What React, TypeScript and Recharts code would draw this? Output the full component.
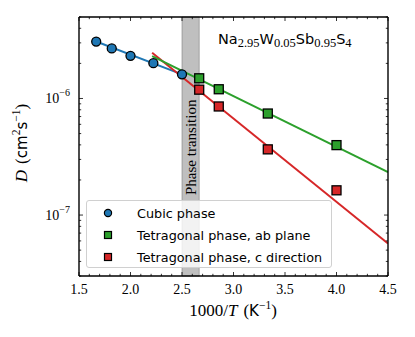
import React from 'react';
import { ComposedChart, XAxis, YAxis, Scatter, Line, ReferenceArea } from 'recharts';

// 1000/T values (K^-1)
const cubicX = [1.667, 1.818, 2.0, 2.222, 2.5];
const tetX = [2.667, 2.857, 3.333, 4.0];

// diffusion coefficient D (cm^2 s^-1)
const cubicD = [3.08e-6, 2.69e-6, 2.32e-6, 2.01e-6, 1.61e-6];
const abD = [1.49e-6, 1.2e-6, 7.43e-7, 3.98e-7];
const cD = [1.19e-6, 8.54e-7, 3.66e-7, 1.63e-7];

// Arrhenius fits, end points
const cubicFitX = [1.667, 2.5];
const cubicFitD = [3.08e-6, 1.61e-6];
const abFitX = [2.21, 4.5];
const abFitD = [2.31e-6, 2.33e-7];
const cFitX = [2.21, 4.5];
const cFitD = [2.47e-6, 5.7e-8];

const transition = [2.5, 2.667];

const xMajor = [1.5, 2.0, 2.5, 3.0, 3.5, 4.0, 4.5];
const xMinor = [
  1.6, 1.7, 1.8, 1.9, 2.1, 2.2, 2.3, 2.4, 2.6, 2.7, 2.8, 2.9,
  3.1, 3.2, 3.3, 3.4, 3.6, 3.7, 3.8, 3.9, 4.1, 4.2, 4.3, 4.4,
];
const yMajor = [1e-7, 1e-6];
const yMajorExp = ['−7', '−6'];
const yMinor = [
  3e-8, 4e-8, 5e-8, 6e-8, 7e-8, 8e-8, 9e-8,
  2e-7, 3e-7, 4e-7, 5e-7, 6e-7, 7e-7, 8e-7, 9e-7,
  2e-6, 3e-6, 4e-6, 5e-6,
];

const legendItems = [
  { label: 'Cubic phase', color: '#1f77b4', marker: 'circle' },
  { label: 'Tetragonal phase, ab plane', color: '#2ca02c', marker: 'square' },
  { label: 'Tetragonal phase, c direction', color: '#d62728', marker: 'square' },
];

const toPoints = (xs: number[], ys: number[]) => xs.map((x, i) => ({ x, y: ys[i] }));

const serif = '"Liberation Serif", "DejaVu Serif", serif';
const sans = '"DejaVu Sans", sans-serif';

const W = 415;
const H = 337;

const xTicks = [...xMajor, ...xMinor].sort((a, b) => a - b);
const yTicks = [...yMajor, ...yMinor].sort((a, b) => a - b);

const BottomTick = ({ x, y, payload }: any) => {
  const major = xMajor.includes(payload.value);
  return (
    <g>
      <line x1={x} x2={x} y1={y} y2={y - (major ? 4 : 2.2)} stroke="#000" strokeWidth={0.8} />
      {major && (
        <text x={x} y={y + 17.5} textAnchor="middle" fontFamily={serif} fontSize={14} fill="#000">
          {payload.value.toFixed(1)}
        </text>
      )}
    </g>
  );
};

const TopTick = ({ x, y, payload }: any) => {
  const major = xMajor.includes(payload.value);
  return <line x1={x} x2={x} y1={y} y2={y + (major ? 4 : 2.2)} stroke="#000" strokeWidth={0.8} />;
};

const LeftTick = ({ x, y, payload }: any) => {
  const idx = yMajor.indexOf(payload.value);
  const major = idx >= 0;
  return (
    <g>
      <line x1={x} x2={x + (major ? 4 : 2.2)} y1={y} y2={y} stroke="#000" strokeWidth={0.8} />
      {major && (
        <text x={x - 9} y={y + 4.5} textAnchor="end" fontFamily={serif} fontSize={14} fill="#000">
          10
          <tspan dy={-6.5} fontSize={10}>{yMajorExp[idx]}</tspan>
        </text>
      )}
    </g>
  );
};

const RightTick = ({ x, y, payload }: any) => {
  const major = yMajor.includes(payload.value);
  return <line x1={x} x2={x - (major ? 4 : 2.2)} y1={y} y2={y} stroke="#000" strokeWidth={0.8} />;
};

const Circle = (p: any) => (
  <circle cx={p.cx} cy={p.cy} r={4.5} fill="#1f77b4" stroke="#000" strokeWidth={1.3} />
);
const square = (color: string) => (p: any) =>
  <rect x={p.cx - 4.5} y={p.cy - 4.5} width={9} height={9} fill={color} stroke="#000" strokeWidth={1.3} />;

const BandLabel = (p: any) => {
  const vb = p.viewBox || {};
  const cx = vb.x + vb.width / 2;
  return (
    <text
      transform={`translate(${cx + 0.5},195) rotate(-90)`}
      fontFamily={serif}
      fontSize={15}
      fill="#000"
      dominantBaseline="central"
    >
      Phase transition
    </text>
  );
};

const LegendBox = () => (
  <div
    style={{
      position: 'absolute',
      left: 86,
      top: 200,
      width: 246,
      height: 68,
      boxSizing: 'border-box',
      background: 'rgba(255,255,255,0.8)',
      border: '1px solid #d0d0d0',
      borderRadius: 3,
      padding: '1px 0 0 0',
      fontFamily: sans,
      fontSize: 12.8,
      color: '#000',
    }}
  >
    {legendItems.map((it) => (
      <div key={it.label} style={{ display: 'flex', alignItems: 'center', height: 22 }}>
        <svg width={50} height={12}>
          {it.marker === 'circle' ? (
            <circle cx={21} cy={6} r={3.6} fill={it.color} stroke="#000" strokeWidth={1.2} />
          ) : (
            <rect x={17.5} y={2.5} width={7} height={7} fill={it.color} stroke="#000" strokeWidth={1.2} />
          )}
        </svg>
        <span>{it.label}</span>
      </div>
    ))}
  </div>
);

const frame = { stroke: '#000', strokeWidth: 1.4 };

export default function App() {
  return (
    <div style={{ position: 'absolute', left: 0, top: 0, width: W, height: H, background: '#fff' }}>
      <ComposedChart width={W} height={H} margin={{ top: 7, right: 17, bottom: 41, left: 59 }}>
        <XAxis
          xAxisId={0}
          dataKey="x"
          type="number"
          domain={[1.5, 4.5]}
          allowDataOverflow
          ticks={xTicks}
          interval={0}
          height={20}
          tickSize={0}
          tickMargin={0}
          tickLine={false}
          tick={<BottomTick />}
          axisLine={frame}
        />
        <XAxis
          xAxisId="top"
          orientation="top"
          dataKey="x"
          type="number"
          domain={[1.5, 4.5]}
          allowDataOverflow
          ticks={xTicks}
          interval={0}
          height={10}
          tickSize={0}
          tickMargin={0}
          tickLine={false}
          tick={<TopTick />}
          axisLine={frame}
        />
        <YAxis
          yAxisId={0}
          dataKey="y"
          type="number"
          scale="log"
          domain={[3e-8, 5e-6]}
          allowDataOverflow
          ticks={yTicks}
          interval={0}
          width={20}
          tickSize={0}
          tickMargin={0}
          tickLine={false}
          tick={<LeftTick />}
          axisLine={frame}
        />
        <YAxis
          yAxisId="right"
          orientation="right"
          dataKey="y"
          type="number"
          scale="log"
          domain={[3e-8, 5e-6]}
          allowDataOverflow
          ticks={yTicks}
          interval={0}
          width={10}
          tickSize={0}
          tickMargin={0}
          tickLine={false}
          tick={<RightTick />}
          axisLine={frame}
        />
        <ReferenceArea
          x1={transition[0]}
          x2={transition[1]}
          y1={3e-8}
          y2={5e-6}
          fill="#808080"
          fillOpacity={0.5}
          stroke="#808080"
          strokeOpacity={0.6}
          strokeWidth={1}
          label={<BandLabel />}
        />
        <Line data={toPoints(cubicFitX, cubicFitD)} dataKey="y" stroke="#1f77b4" strokeWidth={2} dot={false} isAnimationActive={false} />
        <Line data={toPoints(cFitX, cFitD)} dataKey="y" stroke="#d62728" strokeWidth={2} dot={false} isAnimationActive={false} />
        <Line data={toPoints(abFitX, abFitD)} dataKey="y" stroke="#2ca02c" strokeWidth={2} dot={false} isAnimationActive={false} />
        <Scatter data={toPoints(cubicX, cubicD)} shape={<Circle />} isAnimationActive={false} />
        <Scatter data={toPoints(tetX, abD)} shape={square('#2ca02c')} isAnimationActive={false} />
        <Scatter data={toPoints(tetX, cD)} shape={square('#d62728')} isAnimationActive={false} />
      </ComposedChart>
      <LegendBox />
      <svg width={W} height={H} style={{ position: 'absolute', left: 0, top: 0, pointerEvents: 'none' }}>
        <text x={218} y={44} fontFamily={sans} fontSize={14.5} fill="#000">
          Na<tspan fontFamily={serif} fontSize={12.5} dy={3}>2.95</tspan>
          <tspan dy={-3}>W</tspan>
          <tspan fontFamily={serif} fontSize={12.5} dy={3}>0.05</tspan>
          <tspan dy={-3}>Sb</tspan>
          <tspan fontFamily={serif} fontSize={12.5} dy={3}>0.95</tspan>
          <tspan dy={-3}>S</tspan>
          <tspan fontFamily={serif} fontSize={12.5} dy={3}>4</tspan>
        </text>
        <text x={233} y={316} textAnchor="middle" fontFamily={serif} fontSize={17} fill="#000">
          1000/<tspan fontStyle="italic">T</tspan>
          <tspan dx={6}>(</tspan>
          <tspan fontFamily={sans} fontSize={15}>K</tspan>
          <tspan fontSize={11.5} dy={-7}>−1</tspan>
          <tspan dy={7}>)</tspan>
        </text>
        <text
          transform="translate(27,143) rotate(-90)"
          textAnchor="middle"
          fontFamily={serif}
          fontSize={17}
          fill="#000"
        >
          <tspan fontStyle="italic">D</tspan>
          <tspan dx={6}>(</tspan>
          <tspan fontFamily={sans} fontSize={15}>cm</tspan>
          <tspan fontSize={11.5} dy={-7}>2</tspan>
          <tspan fontFamily={sans} fontSize={15} dy={7}>s</tspan>
          <tspan fontSize={11.5} dy={-7}>−1</tspan>
          <tspan dy={7}>)</tspan>
        </text>
      </svg>
    </div>
  );
}
